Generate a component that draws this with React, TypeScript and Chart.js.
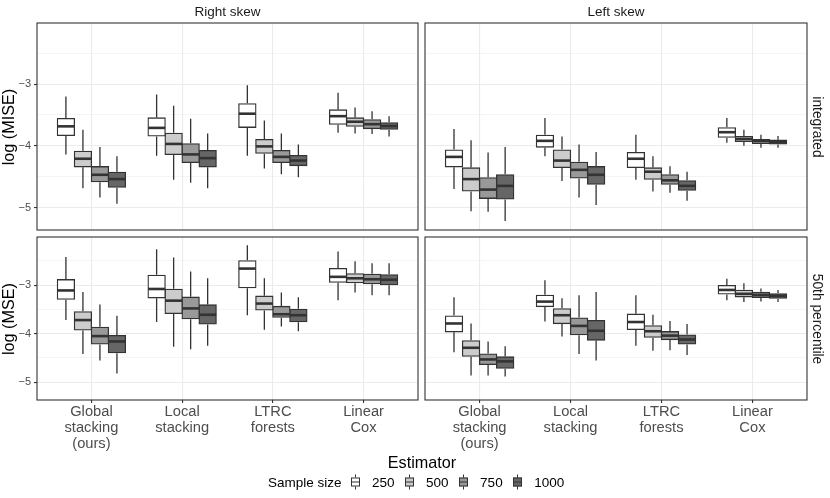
import React, { useEffect, useRef } from "react";
import { Chart, registerables } from "chart.js";

Chart.register(...registerables);

// ---------- data ----------
const ESTIMATORS: string[][] = [
  ["Global", "stacking", "(ours)"],
  ["Local", "stacking"],
  ["LTRC", "forests"],
  ["Linear", "Cox"],
];
const ESTIMATOR_POS = [1, 2, 3, 4];
const SAMPLE_SIZES = ["250", "500", "750", "1000"];
const Y_TICKS = [-5, -4.5, -4, -3.5, -3, -2.5];
const Y_MIN = -5.365;
const Y_MAX = -2.01;

// each row: [lower whisker, Q1, median, Q3, upper whisker], one row per estimator
// Right skew / integrated
const RS_INT_250 = [[-4.14, -3.83, -3.685, -3.56, -3.2], [-4.16, -3.84, -3.71, -3.55, -3.17], [-4.16, -3.7, -3.48, -3.32, -3.02], [-3.79, -3.65, -3.52, -3.42, -3.14]];
const RS_INT_500 = [[-4.69, -4.34, -4.21, -4.09, -3.74], [-4.55, -4.14, -3.97, -3.8, -3.35], [-4.37, -4.12, -4.01, -3.9, -3.59], [-3.8, -3.68, -3.61, -3.55, -3.38]];
const RS_INT_750 = [[-4.84, -4.58, -4.47, -4.34, -4.02], [-4.6, -4.27, -4.14, -3.97, -3.56], [-4.46, -4.27, -4.18, -4.08, -3.8], [-3.81, -3.72, -3.65, -3.58, -3.44]];
const RS_INT_1000 = [[-4.94, -4.67, -4.54, -4.43, -4.17], [-4.69, -4.34, -4.2, -4.08, -3.8], [-4.51, -4.32, -4.24, -4.16, -3.98], [-3.85, -3.73, -3.68, -3.63, -3.52]];
// Left skew / integrated
const LS_INT_250 = [[-4.7, -4.34, -4.18, -4.07, -3.73], [-4.17, -4.02, -3.92, -3.83, -3.55], [-4.55, -4.35, -4.21, -4.11, -3.82], [-3.95, -3.86, -3.78, -3.71, -3.55]];
const LS_INT_500 = [[-5.06, -4.73, -4.54, -4.36, -3.91], [-4.57, -4.35, -4.24, -4.07, -3.85], [-4.74, -4.54, -4.42, -4.36, -4.17], [-4.0, -3.93, -3.89, -3.85, -3.74]];
const LS_INT_750 = [[-5.07, -4.85, -4.71, -4.52, -4.11], [-4.84, -4.52, -4.39, -4.27, -3.98], [-4.76, -4.62, -4.56, -4.47, -4.33], [-4.03, -3.96, -3.92, -3.9, -3.82]];
const LS_INT_1000 = [[-5.22, -4.86, -4.65, -4.47, -4.02], [-4.96, -4.62, -4.47, -4.34, -4.1], [-4.89, -4.72, -4.65, -4.57, -4.42], [-4.03, -3.97, -3.94, -3.91, -3.84]];
// Right skew / 50th percentile
const RS_P50_250 = [[-3.72, -3.29, -3.11, -2.89, -2.42], [-3.76, -3.26, -3.08, -2.8, -2.26], [-3.62, -3.05, -2.66, -2.5, -2.18], [-3.31, -2.94, -2.83, -2.66, -2.31]];
const RS_P50_500 = [[-4.42, -3.92, -3.72, -3.55, -3.14], [-4.27, -3.58, -3.32, -3.09, -2.43], [-3.92, -3.51, -3.38, -3.23, -2.86], [-3.15, -2.95, -2.86, -2.77, -2.51]];
const RS_P50_750 = [[-4.55, -4.21, -4.05, -3.87, -3.4], [-4.32, -3.69, -3.48, -3.25, -2.72], [-3.85, -3.66, -3.6, -3.44, -3.15], [-3.21, -2.97, -2.88, -2.78, -2.55]];
const RS_P50_1000 = [[-4.82, -4.39, -4.16, -4.04, -3.63], [-4.25, -3.8, -3.61, -3.41, -2.86], [-3.95, -3.75, -3.62, -3.5, -3.25], [-3.21, -2.99, -2.89, -2.79, -2.55]];
// Left skew / 50th percentile
const LS_P50_250 = [[-4.38, -3.96, -3.79, -3.64, -3.25], [-3.75, -3.44, -3.34, -3.21, -2.9], [-4.25, -3.91, -3.76, -3.6, -3.21], [-3.31, -3.18, -3.1, -3.01, -2.87]];
const LS_P50_500 = [[-4.86, -4.46, -4.29, -4.15, -3.79], [-4.06, -3.79, -3.62, -3.49, -3.27], [-4.35, -4.07, -3.95, -3.84, -3.61], [-3.35, -3.24, -3.18, -3.11, -2.96]];
const LS_P50_750 = [[-4.86, -4.63, -4.53, -4.42, -4.16], [-4.42, -4.02, -3.84, -3.68, -3.21], [-4.34, -4.12, -4.04, -3.96, -3.74], [-3.34, -3.25, -3.2, -3.15, -3.07]];
const LS_P50_1000 = [[-4.88, -4.71, -4.57, -4.48, -4.26], [-4.55, -4.13, -3.94, -3.73, -3.14], [-4.44, -4.21, -4.12, -4.03, -3.8], [-3.35, -3.27, -3.22, -3.18, -3.1]];

// ---------- styles ----------
const FONT = '"Liberation Sans", Arial, Helvetica, sans-serif';
const FILLS = ["#FFFFFF", "#CCCCCC", "#999999", "#666666"];
const INK = "#333333";
const GRID = "#EBEBEB";

Chart.defaults.font.family = FONT;

const boxplotPlugin = {
  id: "boxplotExtras",
  afterDatasetsDraw(chart: any) {
    const ctx = chart.ctx;
    const ys = chart.scales.y;
    const a = chart.chartArea;
    ctx.save();
    ctx.beginPath();
    ctx.rect(a.left, a.top, a.right - a.left, a.bottom - a.top);
    ctx.clip();
    chart.data.datasets.forEach((ds: any, di: number) => {
      const meta = chart.getDatasetMeta(di);
      meta.data.forEach((el: any, i: number) => {
        const st = ds.stats[i];
        const { x, width } = el.getProps(["x", "width"], true);
        ctx.strokeStyle = INK;
        ctx.lineCap = "butt";
        ctx.lineWidth = 1.3;
        ctx.beginPath();
        ctx.moveTo(x, ys.getPixelForValue(st[0]));
        ctx.lineTo(x, ys.getPixelForValue(st[1]) + 0.6);
        ctx.moveTo(x, ys.getPixelForValue(st[3]) - 0.6);
        ctx.lineTo(x, ys.getPixelForValue(st[4]));
        ctx.stroke();
        const my = ys.getPixelForValue(st[2]);
        ctx.lineWidth = 2.6;
        ctx.beginPath();
        ctx.moveTo(x - width / 2, my);
        ctx.lineTo(x + width / 2, my);
        ctx.stroke();
      });
    });
    ctx.restore();
    ctx.save();
    ctx.strokeStyle = INK;
    ctx.lineWidth = 1.1;
    ctx.strokeRect(a.left, a.top, a.right - a.left, a.bottom - a.top);
    ctx.restore();
  },
};

type PanelProps = {
  series: number[][][];
  showY: boolean;
  showX: boolean;
  left: number;
  top: number;
  width: number;
  height: number;
  padding: { left: number; top: number; right: number; bottom: number };
};

function PanelChart(p: PanelProps) {
  const ref = useRef<HTMLCanvasElement>(null);
  useEffect(() => {
    const datasets = SAMPLE_SIZES.map((s, si) => ({
      label: s,
      data: p.series[si].map((st, ei) => ({ x: ESTIMATOR_POS[ei], y: [st[1], st[3]] })),
      stats: p.series[si],
      backgroundColor: FILLS[si],
      borderColor: INK,
      borderWidth: 1.3,
      borderSkipped: false,
      inflateAmount: 0.65,
      categoryPercentage: 0.75,
      barPercentage: 1,
    }));
    const chart = new Chart(ref.current as HTMLCanvasElement, {
      type: "bar",
      data: { datasets } as any,
      plugins: [boxplotPlugin],
      options: {
        animation: false,
        responsive: true,
        maintainAspectRatio: false,
        events: [],
        layout: { padding: p.padding },
        plugins: { legend: { display: false }, tooltip: { enabled: false } },
        scales: {
          x: {
            type: "linear",
            min: 0.4,
            max: 4.6,
            offset: false,
            afterBuildTicks: (s: any) => {
              s.ticks = ESTIMATOR_POS.map((v) => ({ value: v }));
            },
            afterFit: (s: any) => {
              s.height = p.showX ? 56 : 0;
              s.paddingLeft = 0;
              s.paddingRight = 0;
              s.paddingTop = 0;
              s.paddingBottom = 0;
            },
            border: { display: false },
            grid: {
              color: GRID,
              lineWidth: 1.1,
              drawTicks: p.showX,
              tickLength: 3,
              tickColor: INK,
              tickWidth: 1.1,
              offset: false,
            },
            ticks: {
              display: p.showX,
              autoSkip: false,
              maxRotation: 0,
              minRotation: 0,
              padding: 1,
              color: "#4D4D4D",
              font: { size: 14.7, lineHeight: 16 / 14.7 },
              callback: (v: any) => ESTIMATORS[ESTIMATOR_POS.indexOf(Number(v))] || "",
            },
          } as any,
          y: {
            type: "linear",
            min: Y_MIN,
            max: Y_MAX,
            afterBuildTicks: (s: any) => {
              s.ticks = Y_TICKS.map((v) => ({ value: v }));
            },
            afterFit: (s: any) => {
              s.width = p.showY ? 37 : 0;
              s.paddingLeft = 0;
              s.paddingRight = 0;
              s.paddingTop = 0;
              s.paddingBottom = 0;
            },
            border: { display: false },
            grid: {
              color: GRID,
              lineWidth: (c: any) => (Number.isInteger(c.tick?.value) ? 1.1 : 0.55),
              drawTicks: p.showY,
              tickLength: 3,
              tickColor: (c: any) => (Number.isInteger(c.tick?.value) ? INK : "rgba(0,0,0,0)"),
              tickWidth: 1.1,
            },
            ticks: {
              display: p.showY,
              padding: 3,
              color: "#4D4D4D",
              font: { size: 11 },
              callback: (v: any) => (Number.isInteger(v) ? (v < 0 ? "\u2212" : "") + Math.abs(v) : ""),
            },
          } as any,
        },
      },
    });
    return () => chart.destroy();
  }, []);
  return (
    <div style={{ position: "absolute", left: p.left, top: p.top, width: p.width, height: p.height }}>
      <canvas ref={ref} />
    </div>
  );
}

function Label(props: { text: string; x: number; y: number; size: number; color?: string; rotate?: number }) {
  return (
    <div
      style={{
        position: "absolute",
        left: props.x,
        top: props.y,
        transform: `translate(-50%, -50%) rotate(${props.rotate || 0}deg)`,
        fontSize: props.size,
        lineHeight: 1,
        color: props.color || "#000000",
        whiteSpace: "nowrap",
      }}
    >
      {props.text}
    </div>
  );
}

function LegendKey({ fill }: { fill: string }) {
  return (
    <div style={{ position: "relative", width: 9, height: 15 }}>
      <div style={{ position: "absolute", left: 3.9, top: 0, width: 1.2, height: 15, background: INK }} />
      <div
        style={{
          position: "absolute",
          left: 0,
          top: 3,
          width: 9,
          height: 9,
          boxSizing: "border-box",
          border: `1.1px solid ${INK}`,
          background: fill,
        }}
      />
      <div style={{ position: "absolute", left: 0, top: 6.7, width: 9, height: 1.6, background: INK }} />
    </div>
  );
}

export default function App() {
  return (
    <div
      style={{
        position: "absolute",
        left: 0,
        top: 0,
        width: 830,
        height: 498,
        background: "#FFFFFF",
        overflow: "hidden",
        fontFamily: FONT,
      }}
    >
      <PanelChart
        series={[RS_INT_250, RS_INT_500, RS_INT_750, RS_INT_1000]}
        showY={true}
        showX={false}
        left={0}
        top={19}
        width={422}
        height={215}
        padding={{ left: 0, top: 4, right: 4, bottom: 4 }}
      />
      <PanelChart
        series={[LS_INT_250, LS_INT_500, LS_INT_750, LS_INT_1000]}
        showY={false}
        showX={false}
        left={421}
        top={19}
        width={390}
        height={215}
        padding={{ left: 4, top: 4, right: 4, bottom: 4 }}
      />
      <PanelChart
        series={[RS_P50_250, RS_P50_500, RS_P50_750, RS_P50_1000]}
        showY={true}
        showX={true}
        left={0}
        top={233}
        width={422}
        height={223}
        padding={{ left: 0, top: 4, right: 4, bottom: 0 }}
      />
      <PanelChart
        series={[LS_P50_250, LS_P50_500, LS_P50_750, LS_P50_1000]}
        showY={false}
        showX={true}
        left={421}
        top={233}
        width={390}
        height={223}
        padding={{ left: 4, top: 4, right: 4, bottom: 0 }}
      />

      <Label text="Right skew" x={227.5} y={12} size={13.5} color="#1A1A1A" />
      <Label text="Left skew" x={616} y={12} size={13.5} color="#1A1A1A" />
      <Label text="integrated" x={817} y={126.5} size={13.8} color="#1A1A1A" rotate={90} />
      <Label text="50th percentile" x={817} y={318.5} size={13.8} color="#1A1A1A" rotate={90} />
      <Label text="log (MISE)" x={8} y={126.5} size={16.2} rotate={-90} />
      <Label text="log (MSE)" x={8} y={318.5} size={16.2} rotate={-90} />
      <Label text="Estimator" x={422} y={462} size={16.2} />

      <div
        style={{
          position: "absolute",
          left: 268,
          top: 482,
          transform: "translateY(-50%)",
          display: "flex",
          alignItems: "center",
          fontSize: 13.5,
          lineHeight: 1,
          color: "#000000",
          whiteSpace: "nowrap",
        }}
      >
        <span>Sample size</span>
        {SAMPLE_SIZES.map((s, i) => (
          <span key={s} style={{ display: "flex", alignItems: "center", marginLeft: i === 0 ? 9.5 : 10.5 }}>
            <LegendKey fill={FILLS[i]} />
            <span style={{ marginLeft: 12 }}>{s}</span>
          </span>
        ))}
      </div>
    </div>
  );
}
